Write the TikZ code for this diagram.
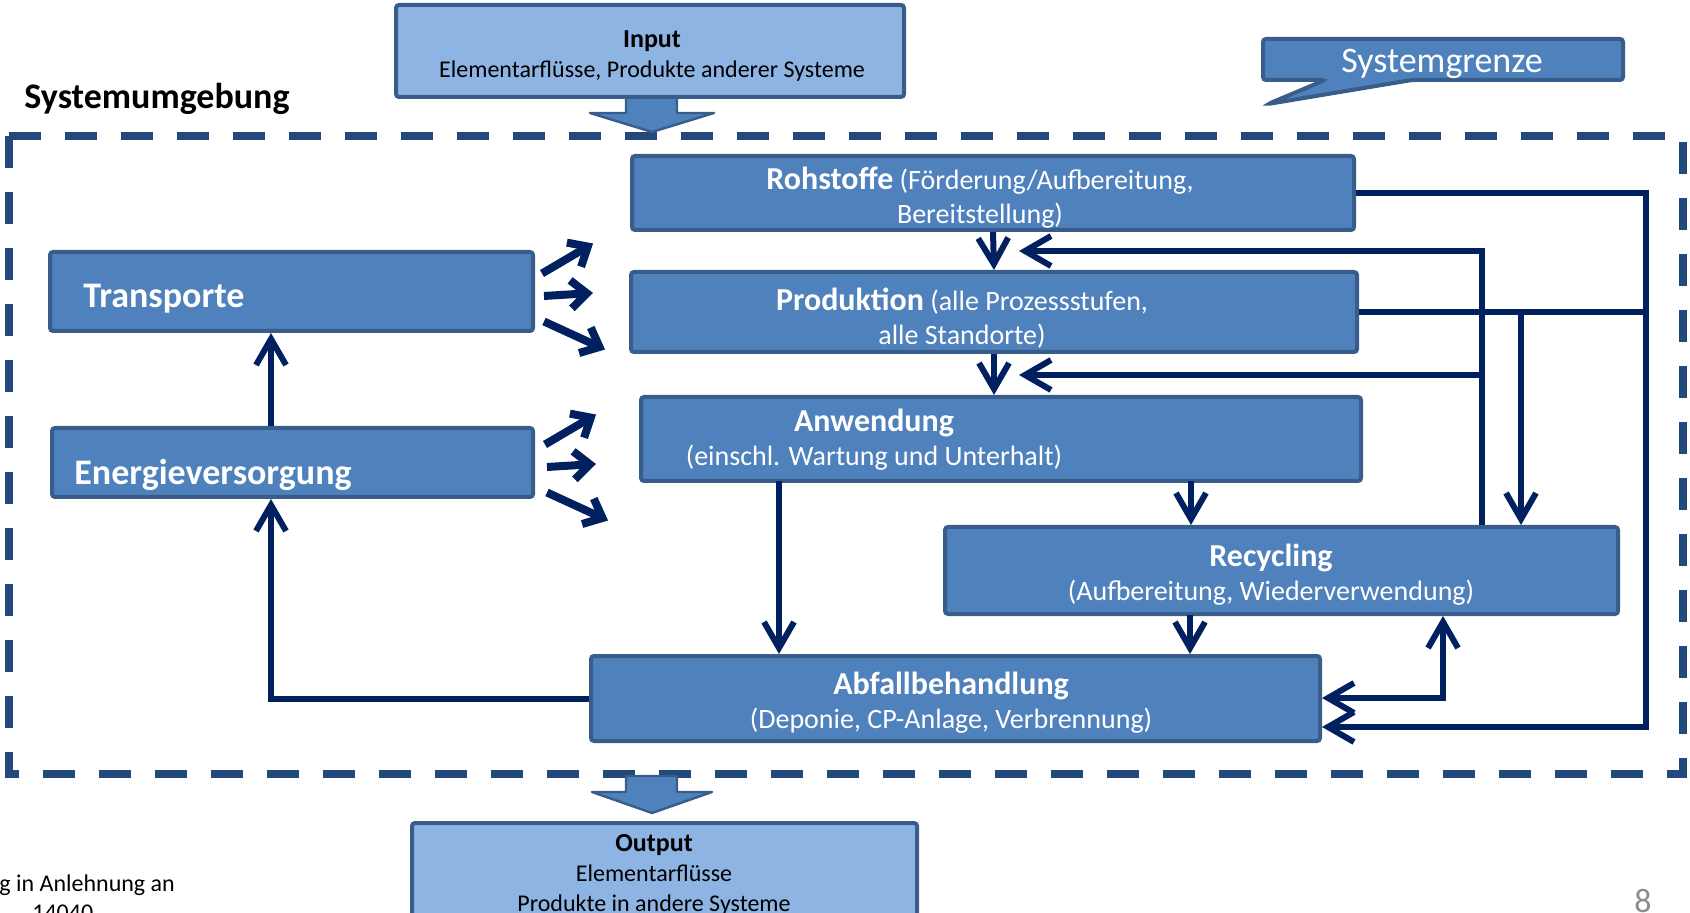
\documentclass[tikz,border=0pt]{standalone}
\usepackage{fontspec}
\setmainfont{Carlito}
\usetikzlibrary{arrows.meta}
\definecolor{boxblue}{HTML}{4F81BD}
\definecolor{boxline}{HTML}{385D8A}
\definecolor{lightblue}{HTML}{8DB4E2}
\definecolor{navy}{HTML}{002060}
\definecolor{bordblue}{HTML}{23497C}
\definecolor{pagegray}{HTML}{8C8C8C}
\tikzset{>={Straight Barb[length=13pt,width=15pt]}}
\tikzset{box/.style = {draw=boxline, fill=boxblue, line width=2pt, rounded corners=1.5pt, inner sep=0pt}}
\tikzset{iobox/.style = {box, fill=lightblue}}
\tikzset{blockarrow/.style = {draw=boxline, fill=boxblue, line width=1.2pt, line join=round}}
\tikzset{flow/.style = {draw=navy, line width=3pt}}
\tikzset{fan/.style = {draw=navy, line width=4pt, -{Straight Barb[length=8pt,width=14pt]}}}
\tikzset{boxtext/.style = {text=white, align=center, font=\fontsize{14}{17}\selectfont}}
\tikzset{bigtext/.style = {text=white, anchor=west, inner sep=0pt, font=\fontsize{18}{20}\selectfont\bfseries}}
\newcommand{\headword}[1]{{\fontsize{16}{17}\selectfont\bfseries #1}}

\begin{document}
\begin{tikzpicture}[x=0.5pt, y=-0.5pt]
		\useasboundingbox (0,0) rectangle (1690,913);

		% System boundary
		\draw[bordblue, line width=4pt, dash pattern=on 16pt off 12pt] (9,136) -- (1683,136) -- (1683,774) -- (9,774) -- cycle;
		\node[anchor=west, inner sep=0pt, font=\fontsize{18}{20}\selectfont\bfseries] (umgebung) at (24,99) {Systemumgebung};

		% Callout
		\path[box] (1263,39) -- (1623,39) -- (1623,80) -- (1412,80) -- (1268,104) -- (1325,80) -- (1263,80) -- cycle;
		\node[text=white, font=\fontsize{18}{20}\selectfont] (grenze) at (1442,64) {Systemgrenze};

		% Input and output
		\path[blockarrow] (626,97) -- (626,113) -- (590,113) -- (652,132) -- (714,113) -- (677,113) -- (677,97) -- cycle;
		\node[iobox, minimum width=254pt, minimum height=46pt] (input) at (650,51) {};
		\node[align=center, font=\fontsize{12}{15}\selectfont] (intxt) at (652,56) {{\fontsize{13}{15}\selectfont\bfseries Input}\\Elementarflüsse, Produkte anderer Systeme};
		\path[blockarrow] (626,776) -- (626,792) -- (592,792) -- (652,813) -- (712,792) -- (677,792) -- (677,776) -- cycle;
		\node[iobox, minimum width=252.5pt, minimum height=50pt] (output) at (664.5,873) {};
		\node[align=center, font=\fontsize{12}{15}\selectfont] (outtxt) at (654,875) {{\fontsize{13}{15}\selectfont\bfseries Output}\\Elementarflüsse\\Produkte in andere Systeme};

		% Boxes
		\node[box, minimum width=361pt, minimum height=37pt] (roh) at (993,193) {};
		\node[box, minimum width=363pt, minimum height=40pt] (prod) at (994,312) {};
		\node[box, minimum width=360pt, minimum height=42pt] (anw) at (1001,439) {};
		\node[box, minimum width=336.5pt, minimum height=43.5pt] (rec) at (1281.5,570.5) {};
		\node[box, minimum width=364.5pt, minimum height=42.5pt] (abf) at (955.5,698.5) {};
		\node[box, minimum width=241.5pt, minimum height=39.5pt] (trans) at (291.5,291.5) {};
		\node[box, minimum width=240.5pt, minimum height=34.5pt] (energ) at (292.5,462.5) {};

		\node[boxtext] (rohtxt) at (980,198) {\headword{Rohstoffe} (Förderung/Aufbereitung,\\Bereitstellung)};
		\node[boxtext] (prodtxt) at (962,318) {\headword{Produktion} (alle Prozessstufen,\\alle Standorte)};
		\node[boxtext] (anwtxt) at (874,440) {\headword{Anwendung}\\(einschl. Wartung und Unterhalt)};
		\node[boxtext] (rectxt) at (1271,575) {\headword{Recycling}\\(Aufbereitung, Wiederverwendung)};
		\node[boxtext] (abftxt) at (951,703) {\headword{Abfallbehandlung}\\(Deponie, CP-Anlage, Verbrennung)};
		\node[bigtext] (transtxt) at (83,299) {Transporte};
		\node[bigtext] (energtxt) at (74,475) {Energieversorgung};

		% Flows
		\coordinate (fbtop) at (1482,251);
		\coordinate (fbmid) at (1482,375);
		\coordinate (tipA) at (1019,251);
		\coordinate (tipB) at (1019,375);
		\coordinate (rright) at (1646,193);
		\coordinate (rbot) at (1646,727);
		\coordinate (recin) at (1521,312);
		\coordinate (a2r) at (1191,481);
		\coordinate (a2a) at (779,481);
		\coordinate (r2a) at (1190,615);
		\coordinate (loop) at (1443,698);
		\coordinate (eback) at (271,699);

		\draw[flow,->] (roh.south) -- (prod.north);
		\draw[flow,->] (prod.south) -- (prod.south |- anw.north);
		\draw[flow,->] (rec.north -| fbtop) -- (fbtop) -- (tipA);
		\draw[flow,->] (fbmid) -- (tipB);
		\draw[flow,->] (roh.east) -- (rright) -- (rbot) -- (abf.east |- rbot);
		\draw[flow] (prod.east) -- (prod.east -| rright);
		\draw[flow,->] (recin) -- (recin |- rec.north);
		\draw[flow,->] (a2r) -- (a2r |- rec.north);
		\draw[flow,->] (a2a) -- (a2a |- abf.north);
		\draw[flow,->] (r2a) -- (r2a |- abf.north);
		\draw[flow,<->] (abf.east |- loop) -- (loop) -- (loop |- rec.south);
		\draw[flow,->] (abf.west |- eback) -- (eback) -- (eback |- energ.south);
		\draw[flow,->] (energ.north -| eback) -- (eback |- trans.south);

		% Fans
		\foreach \b/\s in {trans/0, energ/3}{
			\draw[fan] ([shift={(7+\s,-18)}]\b.east) -- ++(51,-30);
			\draw[fan] ([shift={(9+\s,4.5)}]\b.east) -- ++(49,-3);
			\draw[fan] ([shift={(9+\s,30)}]\b.east) -- ++(61,28);
		}

		% Footer
		\node[anchor=west, inner sep=0pt, font=\fontsize{12}{14}\selectfont] (quelle) at (-1,885) {g in Anlehnung an};
		\node[anchor=west, inner sep=0pt, font=\fontsize{12}{14}\selectfont] (norm) at (32,913) {14040};
		\node[inner sep=0pt, text=pagegray, font=\fontsize{17}{19}\selectfont] (seite) at (1643,901) {8};
	\end{tikzpicture}
\end{document}
